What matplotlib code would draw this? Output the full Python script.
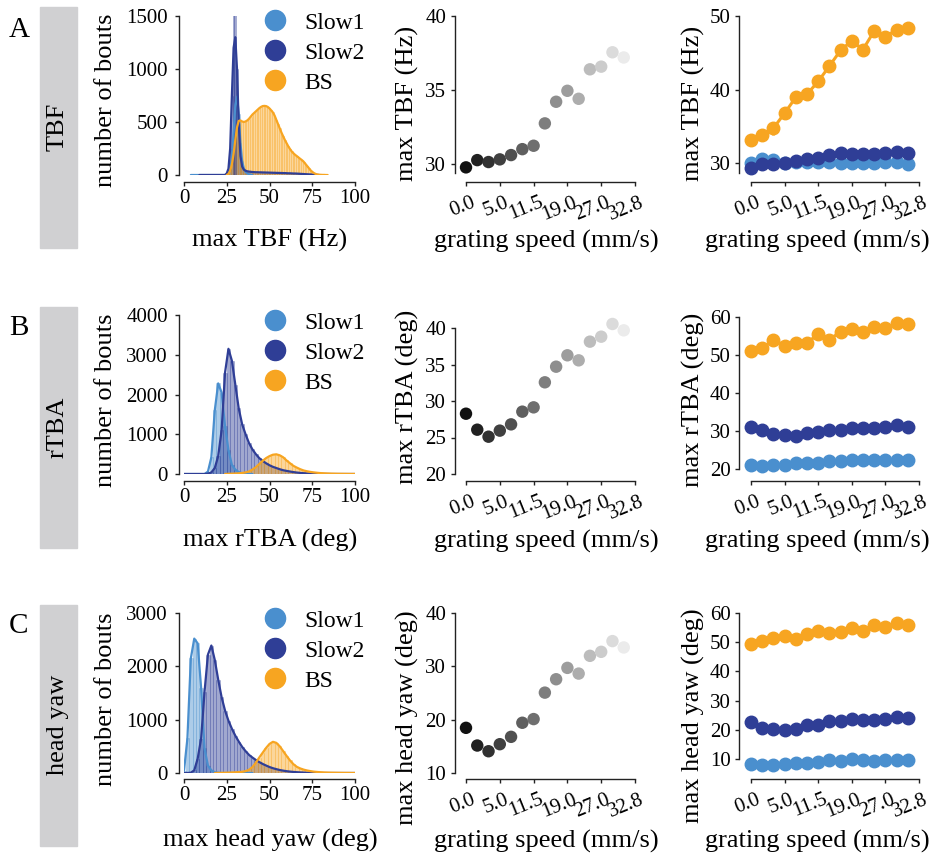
import numpy as np
import matplotlib
matplotlib.use("Agg")
import matplotlib.pyplot as plt
import matplotlib.transforms as mtransforms
from matplotlib.lines import Line2D
from matplotlib.patches import Rectangle

plt.rcParams["font.family"] = ["Liberation Serif", "DejaVu Serif"]

W, H = 936, 857

groups = ["Slow1", "Slow2", "BS"]
colors = ["#4a8fce", "#2f3e96", "#f7a521"]
rows = ["TBF", "rTBA", "head yaw"]
letters = ["A", "B", "C"]
hist_xlabels = ["max TBF (Hz)", "max rTBA (deg)", "max head yaw (deg)"]
speed_ylabels = ["max TBF (Hz)", "max rTBA (deg)", "max head yaw (deg)"]

speed_ticks = [0, 3, 6, 9, 12, 15]
speed_labels = ["0.0", "5.0", "11.5", "19.0", "27.0", "32.8"]

# ---- histograms (bin start, bin step, counts) ----
a_slow1 = (4, 1, [0, 0, 0, 0, 0, 0, 0, 0, 0, 0, 0, 0, 0, 0, 0, 0, 0, 0, 0, 0, 0,
                  5, 20, 60, 170, 400, 660, 740, 580, 300, 130, 60, 30, 15, 8, 4, 0])
a_slow2 = (9, 1, [0, 0, 0, 0, 0, 0, 0, 0, 0, 0, 0, 0, 0, 0, 0, 0,
                  15, 60, 250, 750, 1200, 1300, 1000, 480, 180, 80, 50, 40, 35, 32, 30,
                  28, 27, 26, 26, 25, 25, 24, 24, 23, 23, 22, 22, 21, 21, 20, 20, 19, 19,
                  18, 18, 17, 16, 16, 15, 14, 14, 13, 12, 11, 10, 9, 8, 7, 6, 5, 4, 3,
                  2, 1, 0])
a_slow2_spike_x = [29, 30]
a_slow2_spike = [1600, 1580]
a_bs = (25, 1, [0, 10, 40, 100, 200, 330, 450, 510, 515, 505, 500, 505, 515, 530, 550,
                570, 585, 600, 615, 630, 642, 650, 652, 650, 642, 628, 610, 590, 560,
                520, 480, 440, 400, 365, 330, 300, 270, 245, 222, 205, 190, 178, 165,
                152, 140, 125, 105, 85, 65, 45, 30, 18, 10, 5, 3, 2, 1, 1, 0, 0])

b_slow1 = (0, 2, [0, 0, 0, 0, 0, 0, 0, 60, 420, 1600, 2280, 2050, 1200, 600, 230,
                  110, 50, 20, 5, 0, 0])
b_slow2 = (0, 2, [0, 0, 0, 0, 0, 0, 0, 10, 40, 150, 450, 1100, 2550, 3150, 2850,
                  2250, 1650, 1250, 1000, 780, 620, 500, 400, 330, 270, 220, 180, 150,
                  120, 95, 78, 62, 48, 36, 27, 20, 15, 10, 7, 5, 3, 2, 1,
                  0, 0, 0, 0, 0, 0, 0, 0])
b_bs = (24, 2, [0, 5, 8, 12, 18, 25, 40, 65, 110, 170, 250, 330, 400, 450, 485, 495,
                470, 420, 340, 270, 205, 160, 120, 88, 68, 52, 40, 30, 22, 17, 13, 10,
                8, 6, 5, 4, 3, 2, 2])

c_slow1 = (0, 2, [40, 650, 2150, 2520, 2430, 1600, 460, 140, 50, 15, 5, 0, 0, 0, 0,
                  0, 0, 0, 0, 0, 0])
c_slow2 = (0, 2, [0, 0, 5, 50, 270, 640, 1520, 2220, 2390, 2120, 1750, 1420, 1170,
                  980, 830, 700, 590, 490, 410, 340, 290, 245, 205, 170, 140, 112, 90,
                  72, 56, 44, 34, 26, 20, 15, 11, 8, 6, 4, 3, 2, 1,
                  0, 0, 0, 0, 0, 0, 0, 0, 0, 0])
c_bs = (18, 2, [0, 2, 3, 5, 7, 10, 13, 17, 22, 35, 60, 110, 190, 290, 380, 470, 545,
                585, 565, 500, 410, 320, 235, 165, 115, 85, 63, 47, 35, 25, 19, 14, 10,
                8, 6, 5, 4, 3, 2, 2, 1, 1])

# ---- all bouts vs grating speed ----
tbf_all = [29.78, 30.27, 30.14, 30.32, 30.61, 31.01, 31.24, 32.75, 34.21, 34.95,
           34.41, 36.40, 36.58, 37.55, 37.20]
rtba_all = [28.26, 26.07, 25.11, 25.94, 26.80, 28.54, 29.13, 32.56, 34.70, 36.26,
            35.57, 38.13, 38.81, 40.55, 39.68]
yaw_all = [18.47, 15.15, 14.08, 15.40, 16.78, 19.42, 20.11, 25.07, 27.58, 29.71,
           28.64, 31.97, 32.72, 34.73, 33.54]

# ---- per bout type vs grating speed ----
tbf_slow1 = [30.0, 30.55, 30.35, 30.0, 30.2, 30.1, 30.2, 30.2, 30.0, 30.0, 30.0,
             30.0, 30.1, 30.1, 29.85]
tbf_slow2 = [29.37, 29.82, 29.82, 30.05, 30.23, 30.59, 30.68, 31.04, 31.31, 31.22,
             31.17, 31.22, 31.31, 31.44, 31.35]
tbf_bs = [33.16, 33.84, 34.74, 36.77, 38.94, 39.35, 41.11, 43.18, 45.35, 46.61,
          45.44, 47.97, 47.16, 48.15, 48.42]
tbf_bs_err = [0.6, 0.8, 0.9, 0.6, 0.4, 0.4, 0.4, 0.3, 0.3, 0.3, 0.3, 0.3, 0.3, 0.3, 0.3]

rtba_slow1 = [20.96, 20.70, 20.96, 21.14, 21.49, 21.67, 21.67, 22.19, 22.02, 22.28,
              22.46, 22.46, 22.46, 22.46, 22.46]
rtba_slow2 = [31.05, 30.26, 29.12, 28.95, 28.77, 29.47, 29.65, 30.18, 30.26, 30.79,
              30.79, 30.79, 31.05, 31.49, 31.14]
rtba_bs = [51.14, 51.75, 54.04, 52.46, 53.16, 53.16, 55.53, 54.04, 56.14, 56.75,
           55.96, 57.37, 57.02, 58.42, 58.07]
rtba_bs_err = [0.6, 1.5, 1.5, 0.7, 0.5, 0.5, 0.5, 0.5, 0.5, 0.5, 0.5, 0.5, 0.5, 0.5, 0.5]

yaw_slow1 = [8.17, 7.83, 7.94, 8.17, 8.51, 8.74, 8.97, 9.54, 9.43, 9.89, 9.66, 9.43,
             9.54, 9.66, 9.66]
yaw_slow2 = [22.59, 20.64, 20.30, 19.95, 20.41, 21.56, 21.56, 23.04, 23.16, 23.62,
             23.39, 23.39, 23.62, 24.30, 24.07]
yaw_bs = [49.36, 50.39, 51.30, 52.22, 50.96, 52.79, 53.94, 53.25, 53.59, 54.85,
          53.94, 55.76, 55.30, 56.57, 55.76]
yaw_bs_err = [0.5, 0.7, 0.6, 0.5, 0.5, 0.5, 0.5, 0.5, 0.5, 0.5, 0.5, 0.5, 0.5, 0.5, 0.5]

hists = [[a_slow1, a_slow2, a_bs], [b_slow1, b_slow2, b_bs], [c_slow1, c_slow2, c_bs]]
alls = [tbf_all, rtba_all, yaw_all]
types = [[tbf_slow1, tbf_slow2, tbf_bs], [rtba_slow1, rtba_slow2, rtba_bs],
         [yaw_slow1, yaw_slow2, yaw_bs]]
bs_errs = [tbf_bs_err, rtba_bs_err, yaw_bs_err]

# layout (pixels)
hist_box = [(16, 175), (315, 474), (613, 773)]
hist_ylim = [(0, 1500), (0, 4000), (0, 3000)]
hist_yticks = [[0, 500, 1000, 1500], [0, 1000, 2000, 3000, 4000], [0, 1000, 2000, 3000]]
mid_box = [(16, 173), (328, 474), (613, 773)]
mid_ylim = [(29.4, 40), (20, 40), (10, 40)]
mid_yticks = [[30, 35, 40], [20, 25, 30, 35, 40], [10, 20, 30, 40]]
right_box = [(16, 173), (317, 469), (613, 759)]
right_ylim = [(28.64, 50), (20, 60), (10, 60)]
right_yticks = [[30, 40, 50], [20, 30, 40, 50, 60], [10, 20, 30, 40, 50, 60]]
xspine_px = [182, 481, 779]
box_top = [7, 307, 605]
hist_ylab_y = [100, 400, 699]
mid_ylab_y = [103, 397, 718]
right_ylab_y = [103, 400, 716]

fig = plt.figure(figsize=(W / 100, H / 100), dpi=100)
shift = mtransforms.ScaledTranslation(5 / 100, 0, fig.dpi_scale_trans)


def add_px_axes(left, right, top, bottom):
    return fig.add_axes([left / W, 1 - bottom / H, (right - left) / W, (bottom - top) / H])


def style(ax, left_out, bottom_out, box, ylab, xlab, ypad):
    left, right, top, bottom = box
    for s in ["top", "right"]:
        ax.spines[s].set_visible(False)
    ax.spines["left"].set_position(("outward", left_out * 0.72))
    ax.spines["bottom"].set_position(("outward", bottom_out * 0.72))
    for s in ["left", "bottom"]:
        ax.spines[s].set_linewidth(1.0)
        ax.spines[s].set_color("#222222")
    ax.tick_params(labelsize=15, length=3, width=1, color="#222222", pad=2)
    ax.tick_params(axis="y", pad=ypad)
    ax.yaxis.set_label_coords((ylab[0] - left) / (right - left),
                              (bottom - ylab[1]) / (bottom - top))
    ax.xaxis.set_label_coords((xlab[0] - left) / (right - left),
                              (bottom - xlab[1]) / (bottom - top))


def speed_ticklabels(ax):
    ax.tick_params(axis="x", pad=5)
    ax.set_xticks(speed_ticks)
    labels = ax.set_xticklabels(speed_labels, rotation=22, ha="right",
                                rotation_mode="anchor")
    for lab in labels:
        lab.set_transform(lab.get_transform() + shift)


for r in range(3):
    top, bottom = hist_box[r]
    ax = add_px_axes(184, 355, top, bottom)
    for (start, step, counts), col in zip(hists[r], colors):
        x = start + step * np.arange(len(counts))
        ax.bar(x, counts, width=step, color=col, alpha=0.45, edgecolor=col,
               linewidth=0.4)
        ax.plot(x, counts, color=col, lw=1.6, solid_capstyle="round")
    if r == 0:
        ax.bar(a_slow2_spike_x, a_slow2_spike, width=1, color=colors[1], alpha=0.45,
               edgecolor=colors[1], linewidth=0.4)
    ax.set_xlim(0, 100)
    ax.set_ylim(*hist_ylim[r])
    ax.set_ylabel("number of bouts", fontsize=19)
    ax.set_xlabel(hist_xlabels[r], fontsize=19)
    style(ax, 5, xspine_px[r] - bottom, (184, 355, top, bottom),
          (117, hist_ylab_y[r]), (270, 229 + 300 * r), 5)
    ax.set_xticks([0, 25, 50, 75, 100])
    ax.set_yticks(hist_yticks[r])
    handles = [Line2D([], [], marker="o", ls="", color=c, markersize=14.5) for c in colors]
    ax.legend(handles, groups, loc="upper left", frameon=False, fontsize=17,
              bbox_to_anchor=(261 / W, 1 - (box_top[r] + 5) / H),
              bbox_transform=fig.transFigure, borderpad=0, borderaxespad=0,
              handletextpad=0.62, labelspacing=0.36, handlelength=1.2)

    # middle: all bouts
    top, bottom = mid_box[r]
    ax = add_px_axes(466, 635, top, bottom)
    greys = plt.cm.gray(np.linspace(0.07, 0.92, len(alls[r])))
    ax.scatter(np.arange(len(alls[r])), alls[r], s=80, c=greys, clip_on=False,
               zorder=3, linewidths=0)
    ax.set_xlim(0, 15)
    ax.set_ylim(*mid_ylim[r])
    ax.set_ylabel(speed_ylabels[r], fontsize=19)
    ax.set_xlabel("grating speed (mm/s)", fontsize=19)
    style(ax, 11.5, xspine_px[r] - bottom, (466, 635, top, bottom),
          (419, mid_ylab_y[r]), (546, 230 + 300 * r), 3)
    ax.set_yticks(mid_yticks[r])
    speed_ticklabels(ax)

    # right: per bout type
    top, bottom = right_box[r]
    ax = add_px_axes(751, 919, top, bottom)
    for vals, col in zip(types[r], colors):
        x = np.arange(len(vals))
        err = bs_errs[r] if col == colors[2] else None
        ax.errorbar(x, vals, yerr=err, color=col, lw=2.2, marker="o", markersize=9,
                    elinewidth=2, capsize=0, clip_on=False, zorder=3)
    ax.set_xlim(0, 15)
    ax.set_ylim(*right_ylim[r])
    ax.set_ylabel(speed_ylabels[r], fontsize=19)
    ax.set_xlabel("grating speed (mm/s)", fontsize=19)
    style(ax, 12, xspine_px[r] - bottom, (751, 919, top, bottom),
          (705, right_ylab_y[r]), (817, 230 + 300 * r), 3)
    ax.set_yticks(right_yticks[r])
    speed_ticklabels(ax)

    # row label box
    fig.patches.append(Rectangle((40 / W, 1 - (box_top[r] + 241) / H), 37 / W, 241 / H,
                                 transform=fig.transFigure, color="#d0d0d2", zorder=0))
    fig.text(58 / W, 1 - (box_top[r] + 120) / H, rows[r], rotation=90, fontsize=19,
             ha="center", va="center")
    fig.text(19 / W, 1 - (30 + 298 * r) / H, letters[r], fontsize=21,
             ha="center", va="center")

fig.savefig("out.png", dpi=100)
